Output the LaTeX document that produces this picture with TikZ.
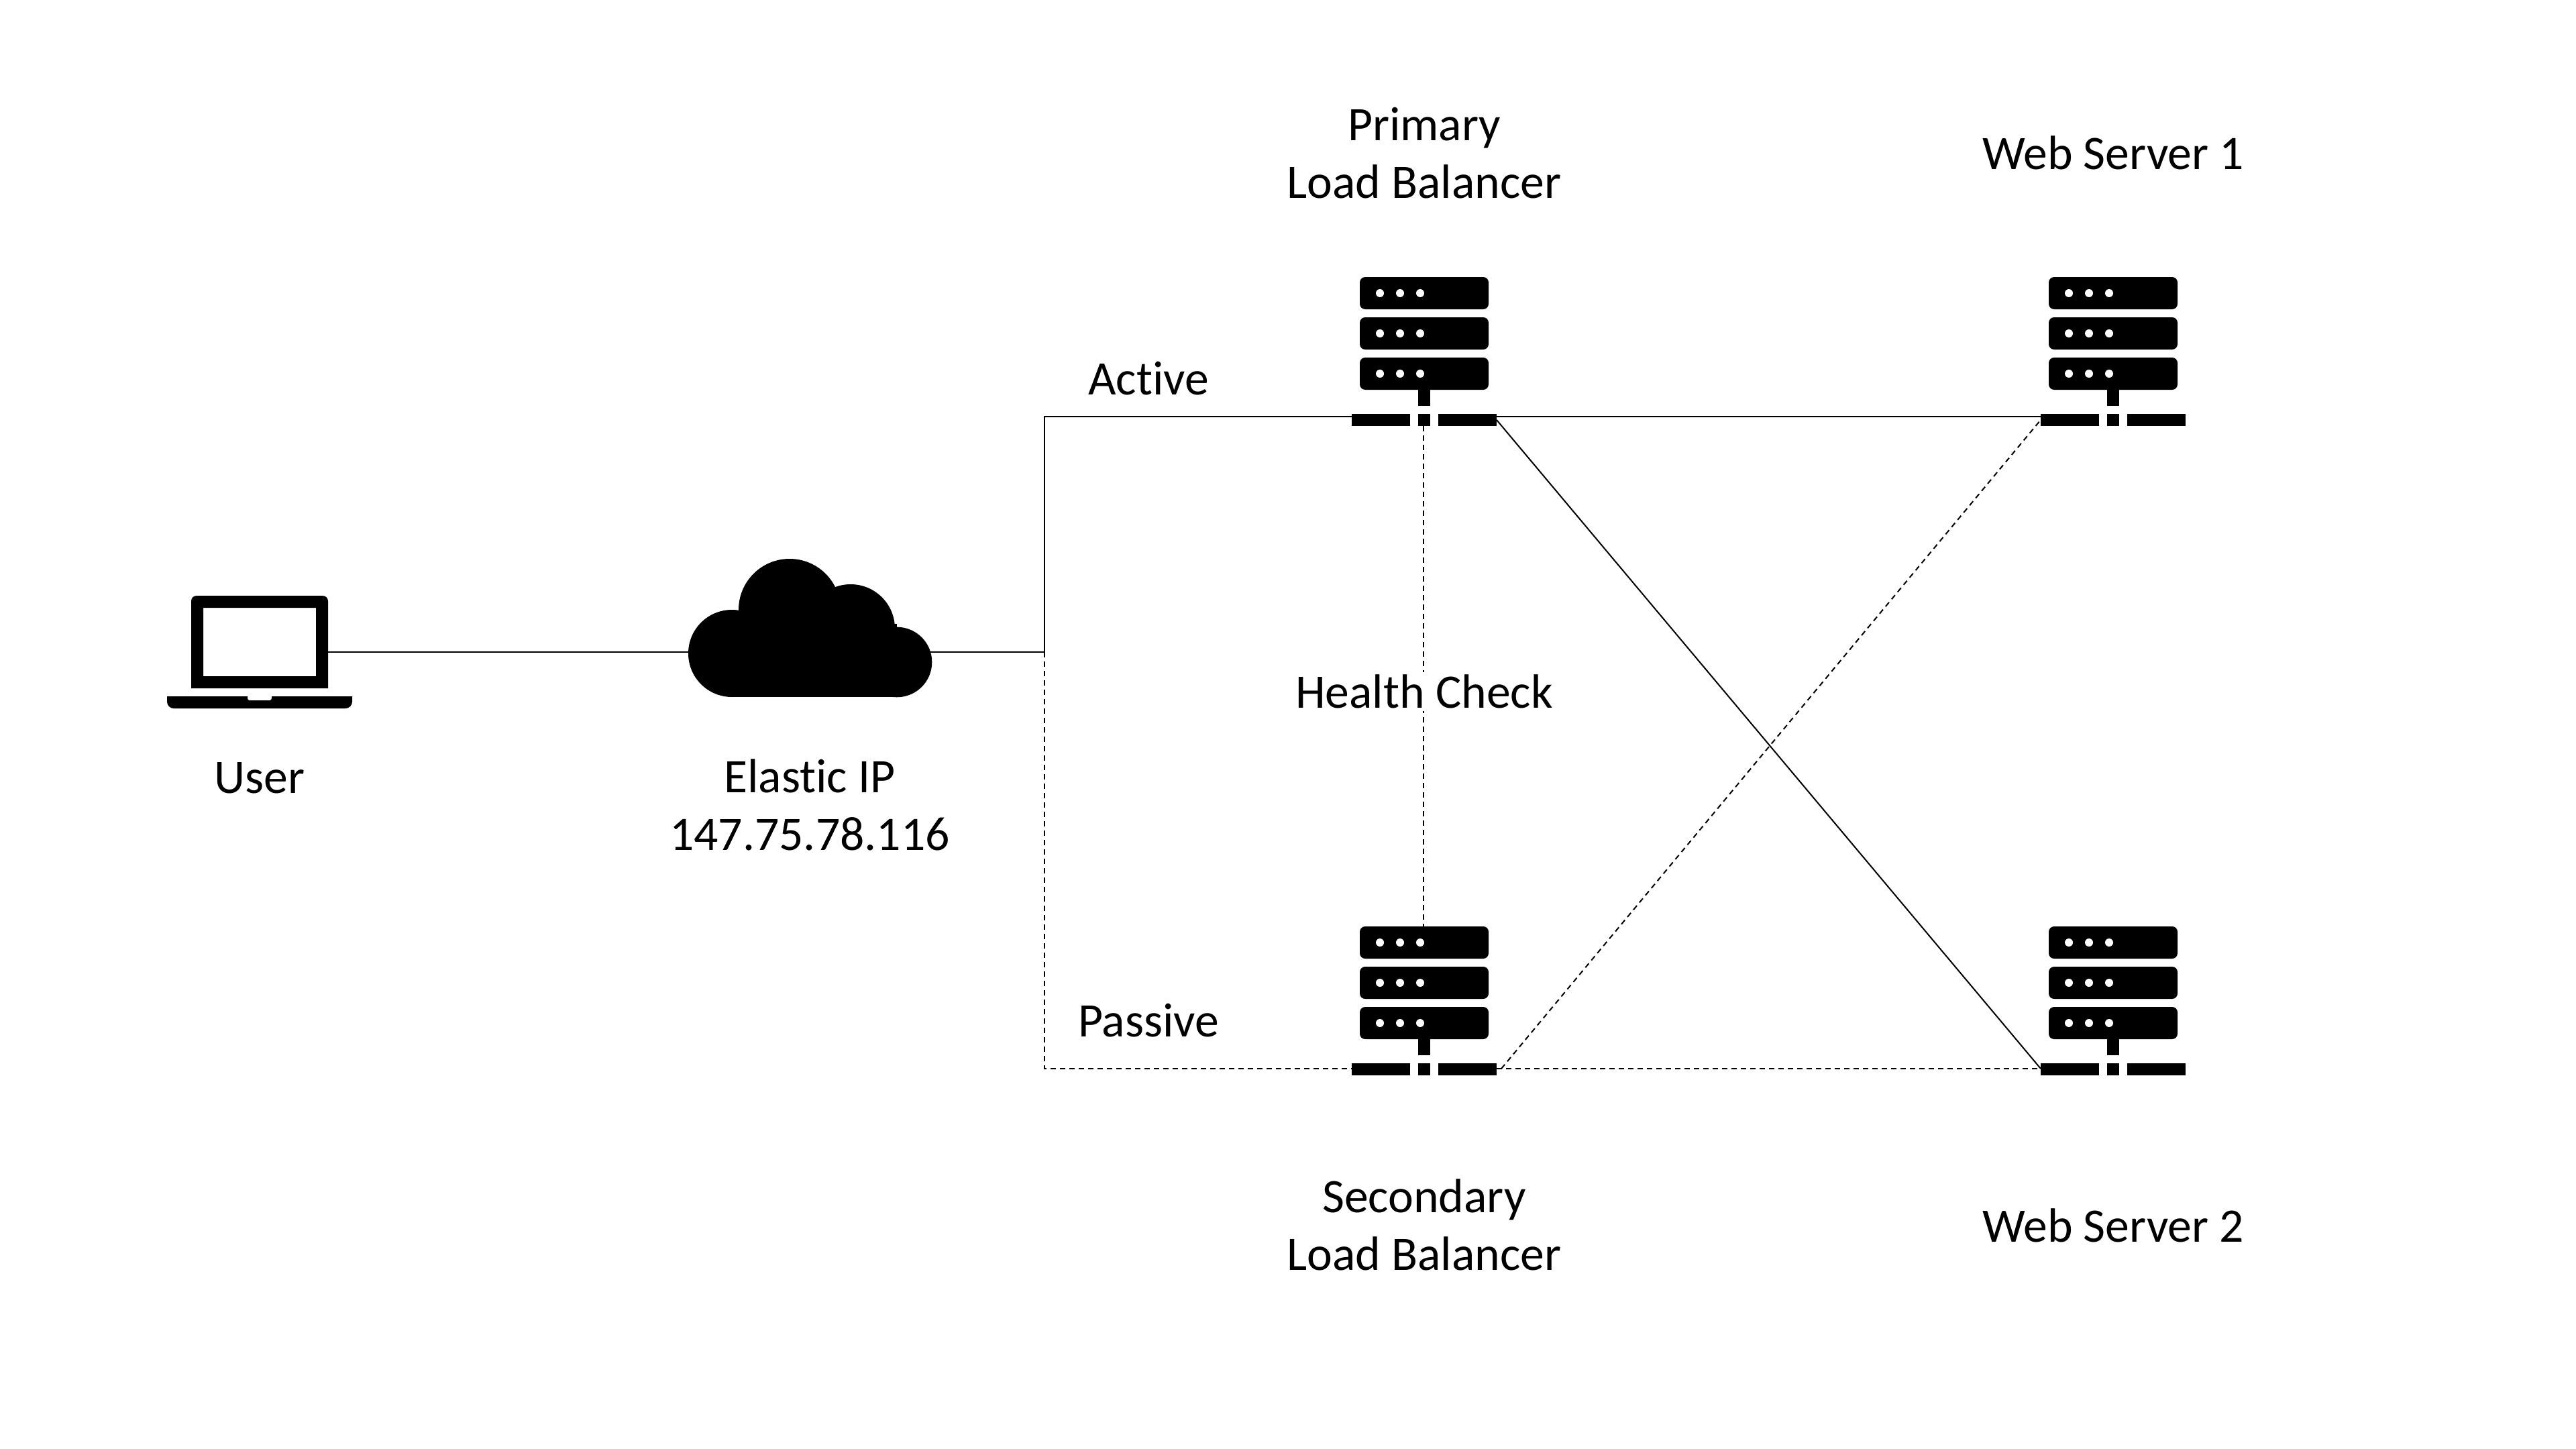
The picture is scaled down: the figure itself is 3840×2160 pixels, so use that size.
\documentclass[tikz,border=0pt]{standalone}
\usepackage{fontspec}
\setmainfont[Ligatures=NoCommon]{Carlito}

\begin{document}
\begin{tikzpicture}[x=0.1mm,y=-0.1mm,
label/.style={%
font=\fontsize{20.4}{24.5}\selectfont,
align=center,
inner sep=1pt,
},
link/.style={%
line width=0.2mm,
},
dashlink/.style={%
line width=0.2mm,
dash pattern=on 0.8mm off 0.6mm,
},
rack/.pic={%
\foreach \y in {-208,-148,-88}{%
\fill[rounded corners=0.8mm] (-96,\y) rectangle (96,\y+48);
\foreach \x in {-66,-36,-6}{%
\fill[white] (\x,\y+24) circle (0.6mm);
}
}
\fill (-9,-40) rectangle (9,-16);
\fill (-108,-4) rectangle (-21,14);
\fill (-9,-4) rectangle (9,14);
\fill (21,-4) rectangle (108,14);
\coordinate (-w) at (-108,0);
\coordinate (-e) at (108,0);
\coordinate (-n) at (-1,-208);
\coordinate (-s) at (-1,14);
},
]
\useasboundingbox (0,0) rectangle (3840,2160);
%% Icons
\fill[even odd rule] (285,1026) [rounded corners=0.8mm] -- (285,888) -- (489,888) [sharp corners] -- (489,1026) -- cycle
(303,906) rectangle (471,1008);
\fill (249,1038) -- (369,1038) [rounded corners=0.3mm] -- (369,1044) -- (405,1044) [sharp corners] -- (405,1038) -- (525,1038) [rounded corners=1mm] -- (525,1056) -- (249,1056) [sharp corners] -- cycle;
\coordinate (laptop) at (489,972);
\fill (1091,974) circle (6.5mm) (1177,909) circle (7.6mm) (1268,937) circle (6.6mm) (1337,987) circle (5.23mm);
\fill (1091,930) rectangle (1337,1039.3);
\coordinate (cloudw) at (1027,972);
\coordinate (cloude) at (1387,972);
\coordinate (fork) at (1557,972);
\pic (lbprimary) at (2123,621) {rack};
\pic (lbsecondary) at (2123,1589) {rack};
\pic (webone) at (3150,621) {rack};
\pic (webtwo) at (3150,1589) {rack};
%% Solid links
\draw[link] (laptop)--(cloudw);
\draw[link] (cloude)--(fork);
\draw[link] (fork)|-(lbprimary-w);
\draw[link] (lbprimary-e)--(webone-w);
\draw[link] ([yshift=-0.5mm]lbprimary-e)--([yshift=-0.4mm]webtwo-w);
%% Dashed links
\draw[dashlink] (fork)|-([yshift=-0.4mm]lbsecondary-w);
\draw[dashlink] ([yshift=-0.4mm]lbsecondary-e)--([yshift=-0.4mm]webtwo-w);
\draw[dashlink] ([xshift=0.7mm,yshift=-0.4mm]lbsecondary-e)--([yshift=-0.5mm]webone-w);
\draw[dashlink] (lbprimary-s)--(lbsecondary-n);
%% Labels
\node[label](primarytext)at(2123,228){Primary\\Load Balancer};
\node[label](secondarytext)at(2123,1826){Secondary\\Load Balancer};
\node[label](webonetext)at(3150,228){Web Server 1};
\node[label](webtwotext)at(3150,1827){Web Server 2};
\node[label](activetext)at(1712,564){Active};
\node[label](passivetext)at(1712,1521){Passive};
\node[label,fill=white](healthtext)at(2123,1031){Health Check};
\node[label](usertext)at(387,1160){User};
\node[label](iptext)at(1207,1200){Elastic IP\\147.75.78.116};
\end{tikzpicture}
\end{document}
